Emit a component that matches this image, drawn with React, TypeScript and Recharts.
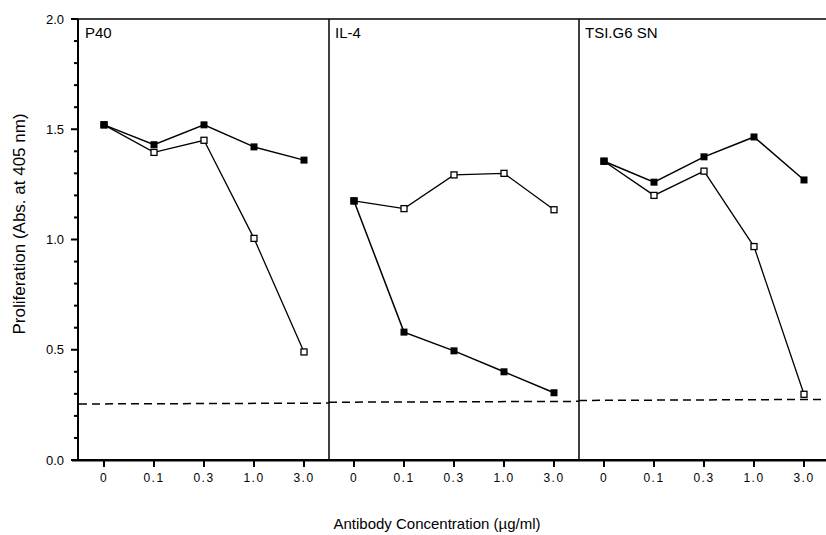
import React from 'react';
import { LineChart, Line, XAxis, YAxis, ReferenceLine, Label } from 'recharts';

// concentrations on each panel's x axis
const concentrations = ['0', '0.1', '0.3', '1.0', '3.0'];
const panelTitles = ['P40', 'IL-4', 'TSI.G6 SN'];

// filled squares / open squares
const p40Filled = [1.52, 1.43, 1.52, 1.42, 1.36];
const p40Open = [1.52, 1.395, 1.45, 1.005, 0.49];
const il4Filled = [1.175, 0.58, 0.495, 0.4, 0.305];
const il4Open = [1.175, 1.14, 1.293, 1.3, 1.135];
const tsiFilled = [1.355, 1.26, 1.375, 1.465, 1.27];
const tsiOpen = [1.355, 1.2, 1.31, 0.968, 0.298];

// background level (dashed), start / end of each panel
const cutoffStart = [0.254, 0.262, 0.27];
const cutoffEnd = [0.258, 0.266, 0.275];

const yTicks = [0, 0.1, 0.2, 0.3, 0.4, 0.5, 0.6, 0.7, 0.8, 0.9, 1.0, 1.1, 1.2, 1.3, 1.4, 1.5, 1.6, 1.7, 1.8, 1.9, 2.0];

const FONT = '"Liberation Sans", Arial, Helvetica, sans-serif';

// chart frame
const PLOT = { left: 78, top: 19, right: 828, bottom: 460 };
const PAD = { left: 26, right: 24 };
const Y_MAX = 2;

const filledSeries = [p40Filled, il4Filled, tsiFilled];
const openSeries = [p40Open, il4Open, tsiOpen];

// one row per (panel, concentration); each panel has its own keys so lines break between panels
const data = panelTitles.flatMap((_, p) =>
  concentrations.map((c, i) => {
    const row: any = { key: `${p}|${c}`, c };
    row[`f${p}`] = filledSeries[p][i];
    row[`o${p}`] = openSeries[p][i];
    return row;
  })
);
const lastIndex = data.length - 1;
const perPanel = concentrations.length;

const isMajor = (v: number) => Math.abs(v * 2 - Math.round(v * 2)) < 1e-6;

const FilledDot = (props: any) => {
  const { cx, cy, index, value } = props;
  if (cx == null || cy == null || value == null) return null;
  return <rect key={`f${index}`} x={cx - 3.5} y={cy - 3.5} width={7} height={7} fill="#000" />;
};

const OpenDot = (props: any) => {
  const { cx, cy, index, value } = props;
  if (cx == null || cy == null || value == null) return null;
  return (
    <rect key={`o${index}`} x={cx - 3} y={cy - 3} width={6} height={6} fill="#fff" stroke="#000" strokeWidth={1.3} />
  );
};

// labels every 0.5 (x arrives 8px left of the axis: tick size 6 + margin 2)
const YTick = ({ x, y, payload }: any) => {
  const v = payload.value;
  if (!isMajor(v)) return <g />;
  return (
    <text x={x + 8 - 14} y={y} dy={4.5} textAnchor="end" fontSize={13} fontFamily={FONT} fill="#000">
      {v.toFixed(1)}
    </text>
  );
};

const XTick = ({ x, y, payload }: any) => (
  <text x={x} y={y + 14} textAnchor="middle" fontSize={12} letterSpacing={1.5} fontFamily={FONT} fill="#000">
    {String(payload.value).split('|')[1]}
  </text>
);

// frame marks (axis line and tick marks), placed with the same layout as the chart
const yPx = (v: number) => PLOT.bottom - (v / Y_MAX) * (PLOT.bottom - PLOT.top);
const xPx = (i: number) => PLOT.left + PAD.left + (i * (PLOT.right - PLOT.left - PAD.left - PAD.right)) / lastIndex;

export default function App() {
  return (
    <div
      style={{
        position: 'absolute',
        left: 0,
        top: 0,
        width: 826,
        height: 535,
        overflow: 'hidden',
        background: '#fff',
      }}
    >
      <LineChart
        width={PLOT.right}
        height={535}
        data={data}
        margin={{ top: PLOT.top, right: 0, bottom: 535 - PLOT.bottom - 30, left: 0 }}
      >
        <XAxis
          dataKey="key"
          padding={PAD}
          interval={0}
          stroke="#000"
          strokeWidth={2}
          tick={<XTick />}
        />
        <XAxis xAxisId="num" type="number" domain={[0, lastIndex]} allowDataOverflow padding={PAD} hide />
        <YAxis
          domain={[0, Y_MAX]}
          ticks={yTicks}
          interval={0}
          width={PLOT.left}
          tickLine={false}
          stroke="#000"
          strokeWidth={2}
          tick={<YTick />}
        />
        <ReferenceLine y={Y_MAX} stroke="#000" strokeWidth={1.5} ifOverflow="visible" />
        {panelTitles.map((title, p) => (
          <ReferenceLine
            key={`div${p}`}
            xAxisId="num"
            x={p * perPanel - 0.5}
            stroke="#000"
            strokeWidth={p === 0 ? 0 : 1.5}
            ifOverflow="visible"
          >
            <Label
              content={({ viewBox }: any) => (
                <text x={viewBox.x + 6} y={viewBox.y + 19} fontSize={15} fontFamily={FONT} fill="#000">
                  {title}
                </text>
              )}
            />
          </ReferenceLine>
        ))}
        {panelTitles.map((_, p) => (
          <ReferenceLine
            key={`cut${p}`}
            xAxisId="num"
            segment={[
              { x: p * perPanel - 0.5, y: cutoffStart[p] },
              { x: p * perPanel + perPanel - 0.5, y: cutoffEnd[p] },
            ]}
            stroke="#000"
            strokeWidth={1.5}
            strokeDasharray="8 5"
            ifOverflow="visible"
          />
        ))}
        {panelTitles.map((_, p) => (
          <Line
            key={`o${p}`}
            dataKey={`o${p}`}
            stroke="#000"
            strokeWidth={1.3}
            dot={<OpenDot />}
            activeDot={false}
            connectNulls={false}
            isAnimationActive={false}
          />
        ))}
        {panelTitles.map((_, p) => (
          <Line
            key={`f${p}`}
            dataKey={`f${p}`}
            stroke="#000"
            strokeWidth={1.5}
            dot={<FilledDot />}
            activeDot={false}
            connectNulls={false}
            isAnimationActive={false}
          />
        ))}
      </LineChart>
      <svg width={826} height={535} style={{ position: 'absolute', left: 0, top: 0, pointerEvents: 'none' }}>
        <rect x={PLOT.left - 6} y={PLOT.bottom - 1} width={PLOT.right - PLOT.left + 6} height={2.5} fill="#000" />
        {data.map((d, i) => (
          <rect key={d.key} x={xPx(i) - 1} y={PLOT.bottom} width={2} height={7} fill="#000" />
        ))}
        {yTicks.map((v) => (
          <rect
            key={v}
            x={PLOT.left - (isMajor(v) ? 7 : 4)}
            y={yPx(v) - 1}
            width={isMajor(v) ? 7 : 4}
            height={2}
            fill="#000"
          />
        ))}
        <text x={25} y={224} transform="rotate(-90 25 224)" textAnchor="middle" fontSize={17} fontFamily={FONT} fill="#000">
          Proliferation (Abs. at 405 nm)
        </text>
        <text x={437} y={529} textAnchor="middle" fontSize={15} fontFamily={FONT} fill="#000">
          Antibody Concentration (µg/ml)
        </text>
      </svg>
    </div>
  );
}
